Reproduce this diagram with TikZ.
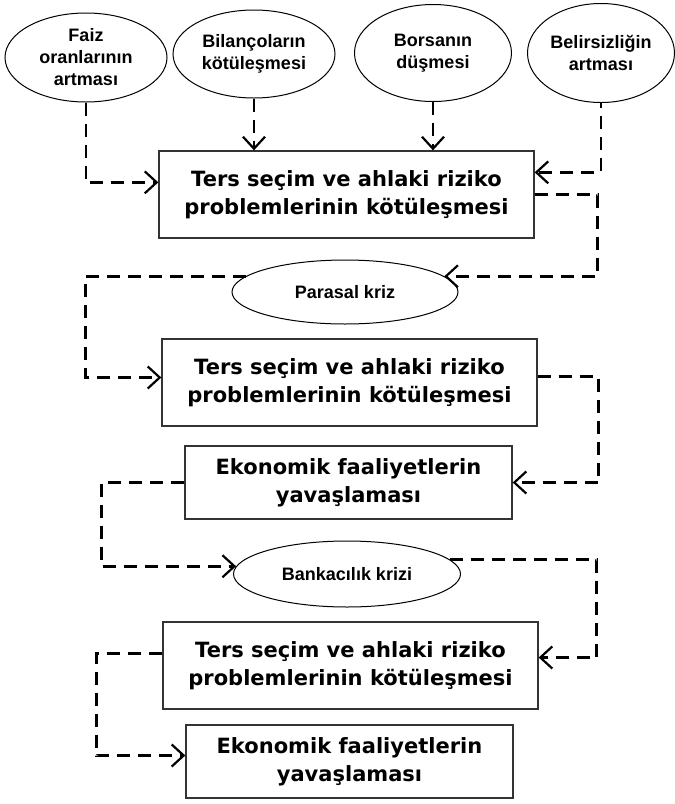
\documentclass[tikz,border=0pt]{standalone}
\usepackage{fontspec}
\newfontfamily\kutufont{DejaVu Sans}
\newfontfamily\elipsfont{Liberation Sans}
\usetikzlibrary{shapes.geometric,arrows.meta}
\tikzset{
  kutu/.style={draw=black!80, line width=1.3pt, inner sep=0pt, align=center,
    font=\kutufont\bfseries\fontsize{21}{28}\selectfont},
  elips/.style={ellipse, draw, line width=1pt, inner sep=0pt, align=center,
    font=\elipsfont\bfseries\fontsize{18}{22}\selectfont},
  ok/.style={dash pattern=on 13pt off 8pt, line width=2.7pt,
    -{Straight Barb[length=12pt,width=22pt,line width=2.2pt]}}
}
\begin{document}
\begin{tikzpicture}[x=1pt, y=-1pt]
  \useasboundingbox (0,0) rectangle (675,804);
  % Üst sıradaki nedenler
  \node[elips, minimum width=162pt, minimum height=89pt] (faiz) at (86,57.5) {Faiz\\oranlarının\\artması};
  \node[elips, minimum width=162pt, minimum height=88pt] (bilanco) at (254,54) {Bilançoların\\kötüleşmesi};
  \node[elips, minimum width=157pt, minimum height=97pt] (borsa) at (433,53) {Borsanın\\düşmesi};
  \node[elips, minimum width=147pt, minimum height=99pt] (belirsiz) at (601,53) {Belirsizliğin\\artması};
  % Kutular ve krizler
  \node[kutu, minimum width=375pt, minimum height=87pt] (kutu1) at (346.5,194.5) {Ters seçim ve ahlaki riziko\\problemlerinin kötüleşmesi};
  \node[elips, minimum width=226pt, minimum height=64pt] (parasal) at (345,292) {Parasal kriz};
  \node[kutu, minimum width=375pt, minimum height=87pt] (kutu2) at (349.5,382.5) {Ters seçim ve ahlaki riziko\\problemlerinin kötüleşmesi};
  \node[kutu, minimum width=327pt, minimum height=73pt] (kutu3) at (348.5,482.5) {Ekonomik faaliyetlerin\\yavaşlaması};
  \node[elips, minimum width=227pt, minimum height=66pt] (banka) at (347,574) {Bankacılık krizi};
  \node[kutu, minimum width=375pt, minimum height=87pt] (kutu4) at (350.5,665.5) {Ters seçim ve ahlaki riziko\\problemlerinin kötüleşmesi};
  \node[kutu, minimum width=327pt, minimum height=73pt] (kutu5) at (349.5,761.5) {Ekonomik faaliyetlerin\\yavaşlaması};
  % Nedenlerden ilk kutuya oklar
  \draw[ok] (faiz.south) |- ([yshift=-32pt]kutu1.north west);
  \draw[ok] (bilanco.south) -- (bilanco.south |- kutu1.north);
  \draw[ok] (borsa.south) -- (borsa.south |- kutu1.north);
  \draw[ok, dash phase=8pt] (belirsiz.south) |- ([yshift=-22pt]kutu1.north east);
  % Zincirleme oklar
  \draw[ok] (kutu1.east) -- ++(63,0) |- (parasal.9);
  \draw[ok] (parasal.171) -- ++(-160,0) |- ([yshift=5pt]kutu2.west);
  \draw[ok] ([yshift=6pt]kutu2.east) -- ++(61,0) |- (kutu3.east);
  \draw[ok] (kutu3.west) -- ++(-83,0) |- (banka.176);
  \draw[ok] (banka.8) -- ++(147,0) |- ([yshift=8pt]kutu4.east);
  \draw[ok] ([yshift=12pt]kutu4.west) -- ++(-66,0) |- ([yshift=6pt]kutu5.west);
\end{tikzpicture}
\end{document}
